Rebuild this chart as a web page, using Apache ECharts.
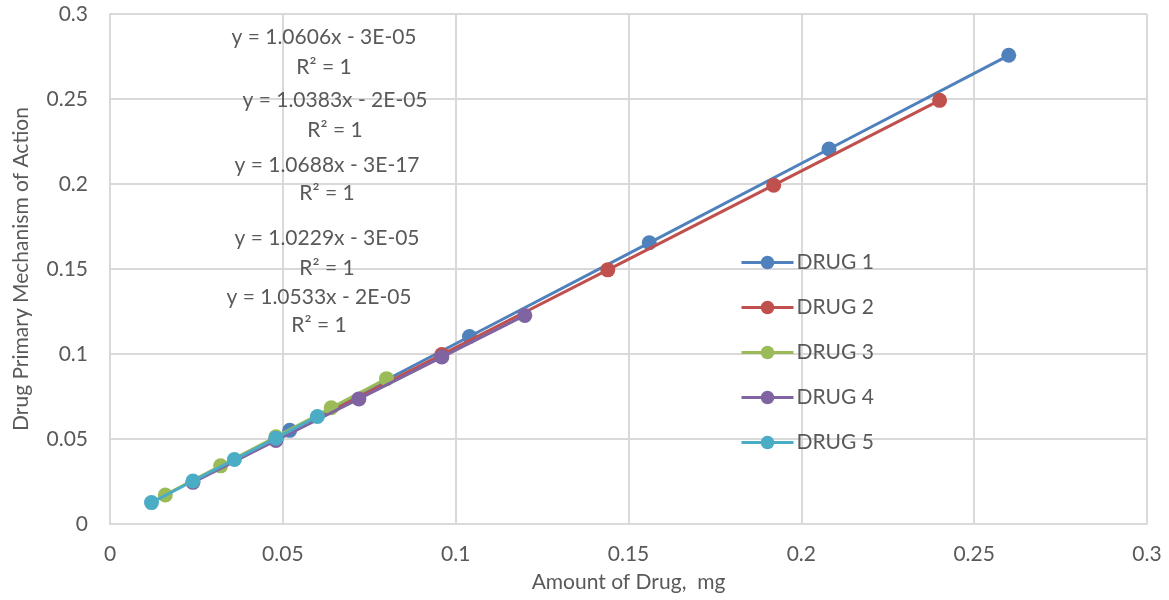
<!DOCTYPE html>
<html>
<head>
<meta charset="utf-8">
<script src="https://cdn.jsdelivr.net/npm/echarts@6/dist/echarts.min.js"></script>
<style>
  html, body { margin: 0; padding: 0; background: #fff; }
  #main { width: 1169px; height: 600px; }
</style>
</head>
<body>
<div id="main"></div>
<script>
// data
var drugNames = ['DRUG 1', 'DRUG 2', 'DRUG 3', 'DRUG 4', 'DRUG 5'];
var drug1X = [0.052, 0.104, 0.156, 0.208, 0.26];
var drug1Y = [0.0551, 0.1103, 0.1654, 0.2206, 0.2757];
var drug2X = [0.048, 0.096, 0.144, 0.192, 0.24];
var drug2Y = [0.0498, 0.0997, 0.1495, 0.1993, 0.2492];
var drug3X = [0.016, 0.032, 0.048, 0.064, 0.08];
var drug3Y = [0.0171, 0.0342, 0.0513, 0.0684, 0.0855];
var drug4X = [0.024, 0.048, 0.072, 0.096, 0.12];
var drug4Y = [0.0245, 0.0491, 0.0736, 0.0982, 0.1227];
var drug5X = [0.012, 0.024, 0.036, 0.048, 0.06];
var drug5Y = [0.0126, 0.0253, 0.0379, 0.0505, 0.0632];
var equations = [
  ['y = 1.0606x - 3E-05', 'R² = 1'],
  ['y = 1.0383x - 2E-05', 'R² = 1'],
  ['y = 1.0688x - 3E-17', 'R² = 1'],
  ['y = 1.0229x - 3E-05', 'R² = 1'],
  ['y = 1.0533x - 2E-05', 'R² = 1']
];

var colors = ['#4F81BD', '#C0504D', '#9BBB59', '#8064A2', '#4BACC6'];
var textColor = '#595959';
var fontName = 'Lato, "Liberation Sans", sans-serif';
var fs = 21;

function pairs(xs, ys) {
  var out = [];
  for (var i = 0; i < xs.length; i++) {
    out.push([xs[i], ys[i]]);
  }
  return out;
}

var allX = [drug1X, drug2X, drug3X, drug4X, drug5X];
var allY = [drug1Y, drug2Y, drug3Y, drug4Y, drug5Y];

var series = [];
for (var s = 0; s < drugNames.length; s++) {
  series.push({
    name: drugNames[s],
    type: 'line',
    data: pairs(allX[s], allY[s]),
    symbol: 'circle',
    symbolSize: 15,
    lineStyle: { width: 3, color: colors[s] },
    itemStyle: { color: colors[s] },
    emphasis: { disabled: true },
    z: 2 + s
  });
}

// equation labels (trendline text)
var eqCenters = [[324, 37, 67], [335, 100, 130], [327, 165, 193], [327, 238, 268], [319, 297, 325]];
var graphics = [];
for (var e = 0; e < equations.length; e++) {
  for (var l = 0; l < 2; l++) {
    graphics.push({
      type: 'text',
      x: eqCenters[e][0],
      y: eqCenters[e][1 + l],
      z: 100,
      style: {
        text: equations[e][l],
        fill: textColor,
        font: fs + 'px ' + fontName,
        textAlign: 'center',
        textVerticalAlign: 'middle'
      }
    });
  }
}

var chart = echarts.init(document.getElementById('main'));
var option = {
  backgroundColor: '#ffffff',
  animation: false,
  color: colors,
  grid: { left: 110, right: 22, top: 14, bottom: 76, containLabel: false, outerBoundsMode: 'none' },
  legend: {
    orient: 'vertical',
    left: 735,
    top: 247,
    padding: 5,
    itemWidth: 52,
    itemHeight: 17,
    itemGap: 24,
    lineStyle: { width: 3 },
    textStyle: { color: textColor, fontSize: fs, fontFamily: fontName, lineHeight: 21, padding: [0, 0, 0, -2] },
    data: drugNames
  },
  xAxis: {
    type: 'value',
    min: 0,
    max: 0.3,
    interval: 0.05,
    name: 'Amount of Drug,  mg',
    nameLocation: 'middle',
    nameGap: 48,
    nameTextStyle: { color: textColor, fontSize: fs, fontFamily: fontName },
    axisLine: { show: true, lineStyle: { color: '#d9d9d9', width: 2 } },
    axisTick: { show: false },
    axisLabel: { color: textColor, fontSize: fs, fontFamily: fontName, margin: 20 },
    splitLine: { show: true, lineStyle: { color: '#d9d9d9', width: 2 } }
  },
  yAxis: {
    type: 'value',
    min: 0,
    max: 0.3,
    interval: 0.05,
    name: 'Drug Primary Mechanism of Action',
    nameLocation: 'middle',
    nameGap: 78,
    nameTextStyle: { color: textColor, fontSize: fs, fontFamily: fontName },
    axisLine: { show: true, lineStyle: { color: '#d9d9d9', width: 2 } },
    axisTick: { show: false },
    axisLabel: { color: textColor, fontSize: fs, fontFamily: fontName, margin: 22 },
    splitLine: { show: true, lineStyle: { color: '#d9d9d9', width: 2 } }
  },
  graphic: graphics,
  series: series
};
chart.setOption(option);
</script>
</body>
</html>
